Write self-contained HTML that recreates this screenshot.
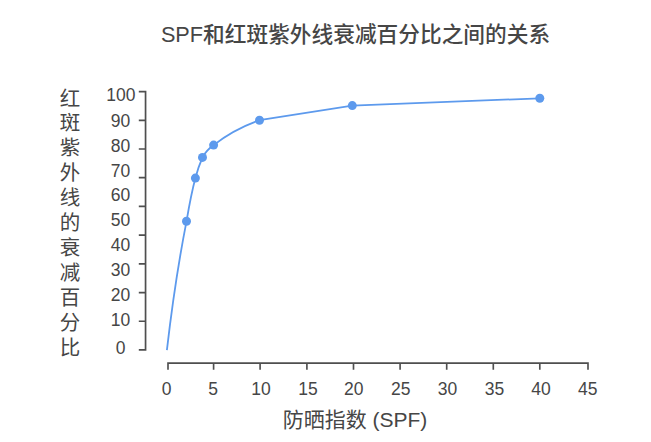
<!DOCTYPE html>
<html lang="zh-CN">
<head>
<meta charset="utf-8">
<title>SPF和红斑紫外线衰减百分比之间的关系</title>
<style>
html,body{margin:0;padding:0;background:#ffffff;font-family:"Liberation Sans",sans-serif;}
body{width:651px;height:442px;overflow:hidden;}
svg{display:block;}
</style>
</head>
<body>
<svg width="651" height="442" viewBox="0 0 651 442" role="img">
<title>SPF和红斑紫外线衰减百分比之间的关系</title>
<desc>折线图：横轴 防晒指数（SPF）0–45，纵轴 红斑紫外线的衰减百分比 0–100。数据点：SPF 2→50，3→70，4→77，5→81，10→90，20→95，40→97.5。</desc>
<rect width="651" height="442" fill="#ffffff"/>
<g role="img" aria-label="SPF和红斑紫外线衰减百分比之间的关系" fill="#464646">
<text x="355.5" y="42" font-size="21.7" font-weight="500" text-anchor="middle" font-family='"Liberation Sans", "Noto Sans CJK SC", sans-serif'>SPF和红斑紫外线衰减百分比之间的关系</text>
</g>
<g role="img" aria-label="红斑紫外线的衰减百分比" fill="#464646" font-size="20.5" text-anchor="middle" font-family='"Liberation Sans", "Noto Sans CJK SC", sans-serif'>
<text x="69.9" y="105.5">红</text>
<text x="69.9" y="130.45">斑</text>
<text x="69.9" y="155.4">紫</text>
<text x="69.9" y="180.35">外</text>
<text x="69.9" y="205.3">线</text>
<text x="69.9" y="230.25">的</text>
<text x="69.9" y="255.2">衰</text>
<text x="69.9" y="280.15">减</text>
<text x="69.9" y="305.1">百</text>
<text x="69.9" y="330.05">分</text>
<text x="69.9" y="355">比</text>
</g>
<g role="img" aria-label="y axis labels: 100 90 80 70 60 50 40 30 20 10 0" fill="#464646" font-size="17.5" text-anchor="middle" font-family='"Liberation Sans", sans-serif'>
<text x="120.8" y="101">100</text>
<text x="120.5" y="126.7">90</text>
<text x="120.5" y="151.5">80</text>
<text x="120.5" y="176.5">70</text>
<text x="120.5" y="201.4">60</text>
<text x="120.5" y="226.4">50</text>
<text x="120.5" y="251">40</text>
<text x="120.5" y="275.6">30</text>
<text x="120.5" y="301.3">20</text>
<text x="120.5" y="326.4">10</text>
<text x="120.5" y="354.4">0</text>
</g>
<g role="img" aria-label="x axis labels: 0 5 10 15 20 25 30 35 40 45" fill="#464646" font-size="17.5" text-anchor="middle" font-family='"Liberation Sans", sans-serif'>
<text x="166.5" y="395.05">0</text>
<text x="213" y="395.05">5</text>
<text x="261.1" y="395.05">10</text>
<text x="308" y="395.05">15</text>
<text x="353.7" y="395.05">20</text>
<text x="400.7" y="395.05">25</text>
<text x="447.6" y="395.05">30</text>
<text x="494.4" y="395.05">35</text>
<text x="541" y="395.05">40</text>
<text x="587.7" y="395.05">45</text>
</g>
<g role="img" aria-label="防晒指数（SPF）" fill="#464646">
<text x="355" y="426.6" font-size="21" text-anchor="middle" font-family='"Liberation Sans", "Noto Sans CJK SC", sans-serif'>防晒指数 (SPF)</text>
</g>
<g role="img" aria-label="y axis" fill="none" stroke="#4f4f4f" stroke-width="1.7" stroke-linejoin="miter">
<path d="M138.8 91.60H145.55V349.94H138.8M138.8 120.30H145.55M138.8 149.01H145.55M138.8 177.71H145.55M138.8 206.42H145.55M138.8 235.12H145.55M138.8 263.83H145.55M138.8 292.53H145.55M138.8 321.24H145.55"/>
</g>
<g role="img" aria-label="x axis" fill="none" stroke="#4f4f4f" stroke-width="1.65" stroke-linejoin="miter">
<path d="M168.0 369.7V363.1H588.0V369.7M213.6 363.1V369.7M260.1 363.1V369.7M306.9 363.1V369.7M353.5 363.1V369.7M400.1 363.1V369.7M446.7 363.1V369.7M493.3 363.1V369.7M539.8 363.1V369.7"/>
</g>
<g role="img" aria-label="data series line" fill="none" stroke="#5d9aed" stroke-width="1.8">
<path d="M166.9 350.1 Q175.0 280 186.5 221.3 C189.2 205.5 192.1 190.5 195.4 178.1 C197.3 170.6 199.8 163.6 202.5 157.4 C205.4 152.2 209.3 148.2 213.6 145.1 C226 135.4 242 126.3 259.5 120.2 L352.3 105.6 L539.8 98.3"/>
</g>
<g role="img" aria-label="data points: SPF 2, 3, 4, 5, 10, 20, 40" fill="#5d9aed">
<circle cx="186.5" cy="221.3" r="4.5"/>
<circle cx="195.4" cy="178.1" r="4.5"/>
<circle cx="202.5" cy="157.4" r="4.5"/>
<circle cx="213.6" cy="145.1" r="4.5"/>
<circle cx="259.5" cy="120.2" r="4.5"/>
<circle cx="352.3" cy="105.6" r="4.5"/>
<circle cx="539.8" cy="98.3" r="4.5"/>
</g>
</svg>
</body>
</html>
